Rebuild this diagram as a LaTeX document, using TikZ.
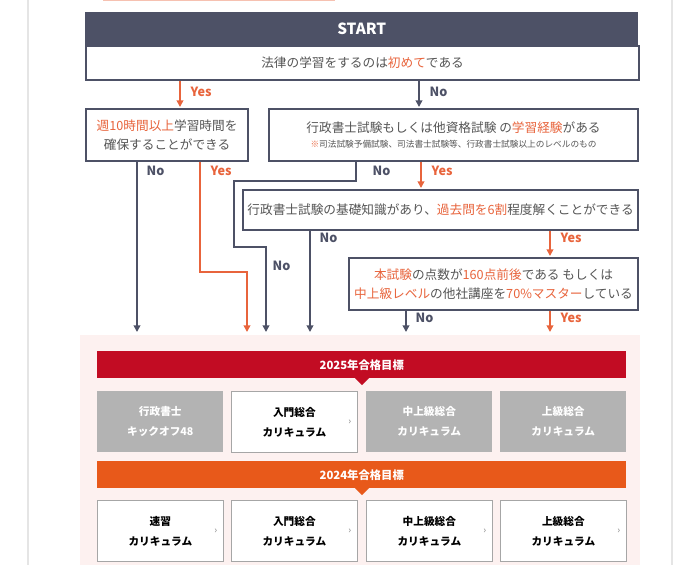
\documentclass[tikz,border=0pt]{standalone}
\usepackage{fontspec}
\setmainfont{Noto Sans CJK JP}
\usetikzlibrary{arrows.meta}
\definecolor{navy}{HTML}{4D5166}
\definecolor{acc}{HTML}{E8643C}
\definecolor{txt}{HTML}{555555}
\definecolor{pinkbg}{HTML}{FDF1F0}
\definecolor{redbar}{HTML}{C20C23}
\definecolor{orbar}{HTML}{E8591A}
\definecolor{grayb}{HTML}{B3B3B3}
\tikzset{
 qbox/.style={draw=navy,line width=1.6pt,fill=white,anchor=north west,align=center,text=txt,font=\fontsize{9.5}{14}\selectfont,inner sep=0pt},
 noline/.style={draw=navy,line width=1.5pt,-{Triangle[length=5pt,width=5pt]}},
 yesline/.style={draw=acc,line width=1.5pt,-{Triangle[length=5pt,width=5pt]}},
 nolab/.style={text=navy,font=\bfseries\fontsize{9.5}{10}\selectfont,anchor=west},
 yeslab/.style={text=acc,font=\bfseries\fontsize{9.5}{10}\selectfont,anchor=west},
 cbox/.style={anchor=north west,minimum width=126*0.75pt,minimum height=61*0.75pt,align=center,font=\bfseries\fontsize{8}{15}\selectfont,inner sep=0pt},
 gbox/.style={cbox,fill=grayb,text=white},
 wbox/.style={cbox,fill=white,draw=gray!70,line width=0.6pt,text=black},
 bar/.style={anchor=north west,minimum width=529*0.75pt,minimum height=27*0.75pt,text=white,font=\bfseries\fontsize{8.5}{10}\selectfont,inner sep=0pt}
}
\newcommand{\chev}[1]{\node[text=gray,font=\fontsize{7}{8}\selectfont] at ([xshift=-8*0.75pt]#1.east) {›};}
\begin{document}
\begin{tikzpicture}[x=0.75pt,y=-0.75pt]
\useasboundingbox (0,0) rectangle (690,565);
\draw[gray!20,line width=0.8pt] (28,0) -- (28,565) (672,0) -- (672,565);
\draw[acc!40,line width=1pt] (103,0.5) -- (335,0.5);
% header
\node[fill=navy,anchor=north west,minimum width=553*0.75pt,minimum height=33*0.75pt,text=white,font=\bfseries\fontsize{11.5}{12}\selectfont,inner sep=0pt] (start) at (85,12) {START};
\node[qbox,minimum width=553*0.75pt,minimum height=34*0.75pt] (q0) at (85,45) {法律の学習をするのは\textcolor{acc}{初めて}である};
\node[qbox,minimum width=162*0.75pt,minimum height=52*0.75pt] (qa) at (85,108) {\textcolor{acc}{週10時間以上}学習時間を\\確保することができる};
\node[qbox,minimum width=369*0.75pt,minimum height=52*0.75pt] (qb) at (268,108) {行政書士試験もしくは他資格試験 の\textcolor{acc}{学習経験}がある\\[-3pt]{\fontsize{6.5}{9}\selectfont\textcolor{acc}{※}司法試験予備試験、司法書士試験等、行政書士試験以上のレベルのもの}};
\node[qbox,minimum width=395*0.75pt,minimum height=40*0.75pt] (qc) at (242,189) {行政書士試験の基礎知識があり、\textcolor{acc}{過去問を6割}程度解くことができる};
\node[qbox,minimum width=289*0.75pt,minimum height=52*0.75pt] (qd) at (348,257) {\textcolor{acc}{本試験}の点数が\textcolor{acc}{160点前後}である もしくは\\\textcolor{acc}{中上級レベル}の他社講座を\textcolor{acc}{70\%マスター}している};
% targets
\fill[pinkbg] (80,335) rectangle (640,565);
\coordinate (t1) at (137,332);
\coordinate (t2) at (247,332);
\coordinate (t3) at (266,332);
\coordinate (t4) at (310,332);
\coordinate (t5) at (406,332);
\coordinate (t6) at (550,332);
\coordinate (ya) at (180,107);
\coordinate (na) at (419,107);
\coordinate (yb) at (421,188);
\coordinate (yc) at (550,256);
\draw[yesline] (q0.south -| ya) -- (ya);
\node[yeslab] at (186,92) {Yes};
\draw[noline] (q0.south -| na) -- (na);
\node[nolab] at (425,92) {No};
\draw[noline] (qa.south -| t1) -- (t1);
\node[nolab] at (142,171) {No};
\draw[yesline] (qa.south -| 200,0) -- (200,272) -- (247,272) -- (t2);
\node[yeslab] at (206,171) {Yes};
\draw[noline] (qb.south -| 356,0) -- (356,181) -- (234,181) -- (234,247) -- (266,247) -- (t3);
\node[nolab] at (368,171) {No};
\node[nolab] at (268,266) {No};
\draw[yesline] (qb.south -| yb) -- (yb);
\node[yeslab] at (427,171) {Yes};
\draw[noline] (qc.south -| t4) -- (t4);
\node[nolab] at (315,238) {No};
\draw[yesline] (qc.south -| yc) -- (yc);
\node[yeslab] at (556,238) {Yes};
\draw[noline] (qd.south -| t5) -- (t5);
\node[nolab] at (411,318) {No};
\draw[yesline] (qd.south -| t6) -- (t6);
\node[yeslab] at (556,318) {Yes};
% 2025
\node[bar,fill=redbar] (b25) at (97,351) {2025年合格目標};
\fill[redbar] (355,378) -- (369,378) -- (362,385) -- cycle;
\node[gbox] (c11) at (97,391) {行政書士\\キックオフ48};
\node[wbox] (c12) at (231,391) {入門総合\\カリキュラム};
\node[gbox] (c13) at (366,391) {中上級総合\\カリキュラム};
\node[gbox] (c14) at (500,391) {上級総合\\カリキュラム};
\chev{c12}
% 2024
\node[bar,fill=orbar] (b24) at (97,461) {2024年合格目標};
\fill[orbar] (355,488) -- (369,488) -- (362,495) -- cycle;
\node[wbox] (c21) at (97,500) {速習\\カリキュラム};
\node[wbox] (c22) at (231,500) {入門総合\\カリキュラム};
\node[wbox] (c23) at (366,500) {中上級総合\\カリキュラム};
\node[wbox] (c24) at (500,500) {上級総合\\カリキュラム};
\chev{c21}\chev{c22}\chev{c23}\chev{c24}
\end{tikzpicture}
\end{document}
